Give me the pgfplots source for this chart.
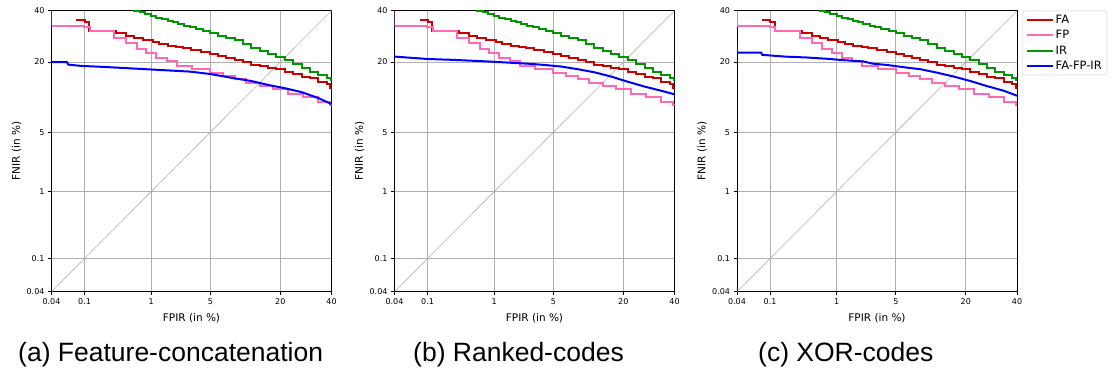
\documentclass[border=0pt]{standalone}
\usepackage{fontspec}
\setmainfont{DejaVu Sans}
\newfontfamily\capfont{Liberation Sans}
\usepackage{pgfplots}
\usepackage{pgfplotstable}
\pgfplotsset{compat=1.18}

\definecolor{faRed}{RGB}{204,0,0}
\definecolor{fpPink}{RGB}{255,105,180}
\definecolor{irGreen}{RGB}{0,150,0}
\definecolor{fuBlue}{RGB}{0,0,255}
\definecolor{gridgray}{RGB}{176,176,176}

% normal deviate (probit) of a percentage, Abramowitz-Stegun 26.2.23
\pgfmathdeclarefunction{probit}{1}{%
  \begingroup
  \pgfmathparse{sqrt(-2*(ln(#1)-4.605170))}%
  \let\probitT\pgfmathresult
  \pgfmathparse{-(\probitT-(2.515517+0.802853*\probitT+0.010328*\probitT*\probitT)/(1+1.432788*\probitT+0.189269*\probitT*\probitT+0.001308*\probitT*\probitT*\probitT))}%
  \pgfmathsmuggle\pgfmathresult
  \endgroup}

% ---------------- data (FPIR %, FNIR %) ----------------
\pgfplotstableread{
x y
0.026 0.026
40 40
}\DIAG

\pgfplotstableread{
x y
0.073 35.9
0.10 35.0
0.12 31.4
0.32 30.4
0.45 29.4
0.59 28.5
0.77 27.6
1.06 27.2
1.29 26.3
1.65 25.7
2.08 25.3
2.49 24.7
3.1 24.1
4.0 23.3
5.0 22.6
6.0 22.1
7.2 21.3
8.6 20.7
10.2 20.0
12.0 19.2
14.1 18.7
16.3 18.2
18.8 17.8
21.5 17.0
24.4 16.3
27.5 15.7
30.8 15.2
34.3 14.3
37.9 13.8
39.5 12.7
40 12.7
}\FA

\pgfplotstableread{
x y
0.026 40
0.026 33.5
0.099 32.9
0.123 31.4
0.30 28.6
0.45 26.7
0.64 24.5
0.86 23.2
1.17 21.3
1.60 20.2
2.10 18.9
3.2 17.9
5.0 16.8
6.7 15.9
8.6 15.0
10.9 14.1
14.1 13.3
17.8 12.5
22.6 11.4
28.2 10.7
34.3 9.8
39.5 9.2
40 9.2
}\FP

\pgfplotstableread{
x y
0.50 41
0.59 40
0.70 39.2
0.82 38.5
1.0 37.8
1.17 37.0
1.4 36.4
1.65 35.6
1.9 35.0
2.18 34.3
2.6 33.6
3.0 32.8
3.5 32.0
4.2 31.2
5.0 30.5
6.0 29.4
7.2 28.5
8.6 27.6
10.2 26.2
12.0 24.9
14.1 23.8
16.3 22.6
18.8 21.8
21.5 20.7
24.4 19.3
27.5 18.1
30.8 17.1
34.3 16.2
37.9 15.4
39.6 14.8
40 14.8
}\IR

\pgfplotstableread{
x y
0.026 20.0
0.050 20.0
0.052 19.2
0.087 18.8
0.20 18.5
0.47 18.1
1.23 17.6
2.98 17.1
5.0 16.4
8.6 15.2
12.0 14.5
16.3 13.5
21.5 12.7
27.5 11.8
34.3 10.5
40 9.3
}\BlueA

\pgfplotstableread{
x y
0.026 21.8
0.10 21.0
0.27 20.7
0.82 20.2
2.18 19.6
2.6 19.5
4.0 19.1
6.0 18.6
8.6 17.8
12.0 16.9
16.3 15.7
21.5 14.3
27.5 13.1
34.3 12.1
40 11.3
}\BlueB

\pgfplotstableread{
x y
0.026 26.3
0.026 23.2
0.071 23.2
0.073 22.4
0.175 21.8
0.38 21.5
0.82 21.0
1.11 20.7
2.18 20.2
2.8 19.5
4.0 19.1
6.0 18.4
8.6 17.8
12.0 16.8
16.3 15.7
21.5 14.5
27.5 13.2
34.3 12.1
40 11.0
}\BlueC

\pgfplotsset{
  detaxis/.style={
    scale only axis, width=280pt, height=281pt,
    anchor=south west,
    xmin=-3.47, xmax=-0.2533, ymin=-3.47, ymax=-0.2533,
    xtick={-3.47,-3.0902,-2.3263,-1.6449,-0.8416,-0.2533},
    ytick={-3.47,-3.0902,-2.3263,-1.6449,-0.8416,-0.2533},
    xticklabels={0.04,0.1,1,5,20,40},
    yticklabels={0.04,0.1,1,5,20,40},
    grid=major,
    major grid style={color=gridgray, line width=0.8pt},
    tick align=outside, xtick pos=lower, ytick pos=left,
    major tick length=3.5pt,
    tick style={black, line width=0.8pt},
    axis line style={line width=0.8pt},
    ticklabel style={font=\fontsize{8}{9}\selectfont},
    xlabel={FPIR (in \%)}, ylabel={FNIR (in \%)},
    every axis x label/.style={at={(axis description cs:0.5,-0.0936)}, anchor=center, font=\fontsize{10.5}{12}\selectfont},
    every axis y label/.style={at={(axis description cs:-0.1250,0.5)}, anchor=center, rotate=90, font=\fontsize{10.5}{12}\selectfont},
    legend image code/.code={\draw[#1] (0pt,0pt) -- (26pt,0pt);},
  },
  table/tr/.style={x expr={probit(\thisrow{x})}, y expr={probit(\thisrow{y})}},
  diag/.style={color=black!30, line width=0.6pt, forget plot},
  fa/.style={const plot, color=faRed, line width=2pt},
  fp/.style={const plot, color=fpPink, line width=2pt},
  ir/.style={const plot, color=irGreen, line width=2pt},
  fu/.style={sharp plot, color=fuBlue, line width=2pt, line join=round},
}

\begin{document}
\begin{tikzpicture}
\useasboundingbox (0pt,0pt) rectangle (1119pt,374pt);

\begin{axis}[detaxis, at={(51.5pt,82.3pt)}]
\addplot[diag] table[tr] {\DIAG};
\addplot[fa] table[tr] {\FA};
\addplot[fp] table[tr] {\FP};
\addplot[ir] table[tr] {\IR};
\addplot[fu] table[tr] {\BlueA};
\end{axis}

\begin{axis}[detaxis, at={(394.5pt,82.3pt)}]
\addplot[diag] table[tr] {\DIAG};
\addplot[fa] table[tr] {\FA};
\addplot[fp] table[tr] {\FP};
\addplot[ir] table[tr] {\IR};
\addplot[fu] table[tr] {\BlueB};
\end{axis}

\begin{axis}[detaxis, at={(737pt,82.3pt)},
  legend style={at={(axis description cs:1,1)}, anchor=north west, xshift=5.5pt,
    draw=black!20, rounded corners=2pt, fill=white,
    font=\fontsize{11.5}{13}\selectfont, inner xsep=3pt, inner ysep=2pt,
    row sep=1.5pt, cells={anchor=west}},
  ]
\addplot[diag] table[tr] {\DIAG};
\addplot[fa] table[tr] {\FA};
\addlegendentry{FA}
\addplot[fp] table[tr] {\FP};
\addlegendentry{FP}
\addplot[ir] table[tr] {\IR};
\addlegendentry{IR}
\addplot[fu] table[tr] {\BlueC};
\addlegendentry{FA-FP-IR}
\end{axis}

\node[anchor=base west, inner sep=0pt, font=\capfont\fontsize{26.5}{30}\selectfont] at (18pt,12pt) {(a) Feature-concatenation};
\node[anchor=base west, inner sep=0pt, font=\capfont\fontsize{26.5}{30}\selectfont] at (413pt,12pt) {(b) Ranked-codes};
\node[anchor=base west, inner sep=0pt, font=\capfont\fontsize{26.5}{30}\selectfont] at (758pt,12pt) {(c) XOR-codes};
\end{tikzpicture}
\end{document}
